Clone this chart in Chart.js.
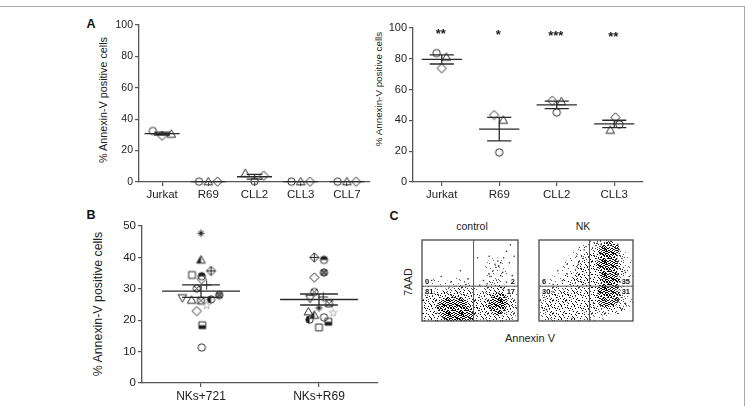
<!DOCTYPE html>
<html>
<head>
<meta charset="utf-8">
<script src="https://cdn.jsdelivr.net/npm/chart.js@4.4.1/dist/chart.umd.min.js"></script>
<style>
  body { margin: 0; width: 746px; height: 406px; position: relative; overflow: hidden; background: #fff;
         font-family: "Liberation Sans", Arial, sans-serif; color: #222; }
  canvas { position: absolute; }
  #frame { position: absolute; left: 0; top: 6px; width: 744px; height: 402px;
           border-top: 1.5px solid #a8a8a8; border-right: 1.5px solid #a8a8a8; }
  .t { position: absolute; white-space: nowrap; line-height: 1; transform: translate(-50%, -50%); }
  .r { transform: translate(-50%, -50%) rotate(-90deg); }
  .p { font-weight: bold; font-size: 12.5px; color: #111; }
</style>
</head>
<body>
<div id="frame"></div>

<div class="t p" style="left:91px;top:24px">A</div>
<div class="t p" style="left:91px;top:215px">B</div>
<div class="t p" style="left:394px;top:216px">C</div>

<div class="t r" style="left:103px;top:100px;font-size:10.8px">% Annexin-V positive cells</div>
<div class="t r" style="left:379px;top:89px;font-size:9.8px">% Annexin-V positive cells</div>
<div class="t r" style="left:98px;top:304px;font-size:12.4px">% Annexin-V positive cells</div>

<div class="t" id="tControl" style="left:472px;top:226px;font-size:10.5px"></div>
<div class="t" id="tNK" style="left:583px;top:226px;font-size:10.5px"></div>
<div class="t r" style="left:408px;top:282px;font-size:10.5px">7AAD</div>
<div class="t" style="left:530px;top:338px;font-size:11px">Annexin V</div>

<canvas id="aLeft" width="286" height="205" style="left:96px;top:10px"></canvas>
<canvas id="aRight" width="286" height="205" style="left:372px;top:10px"></canvas>
<canvas id="bPanel" width="302" height="196" style="left:90px;top:210px"></canvas>
<canvas id="cControl" width="120" height="105" style="left:410px;top:228px"></canvas>
<canvas id="cNK" width="118" height="105" style="left:527px;top:228px"></canvas>

<script>
// ---------- data ----------
// panel A, left: three replicates per target
const catsA1 = ["Jurkat", "R69", "CLL2", "CLL3", "CLL7"];
const circleA1 = [32.5, 0.2, 0.5, 0.2, 0.2];
const triangleA1 = [30.5, 0.2, 5.5, 0.2, 0.2];
const diamondA1 = [29.5, 0.2, 4.0, 0.2, 0.2];
const ticksA = [0, 20, 40, 60, 80, 100];

// panel A, right
const catsA2 = ["Jurkat", "R69", "CLL2", "CLL3"];
const circleA2 = [83.7, 19.2, 45.2, 37.4];
const triangleA2 = [81.1, 40.2, 52.2, 33.7];
const diamondA2 = [73.9, 43.5, 52.8, 42.0];
const sigA2 = ["**", "*", "***", "**"];
const sigLevelA2 = [98.2, 97.8, 97.1, 96.1];

// panel B: one value per donor
const catsB = ["NKs+721", "NKs+R69"];
const nk721 = [47.7, 39.2, 35.7, 34.4, 34.0, 33.1, 31.2, 30.1, 28.0, 27.1, 26.4, 26.2, 26.6, 24.7, 22.9, 18.4, 11.3];
const nkR69 = [23.9, 21.6, 40.0, 17.7, 39.2, 33.6, 27.4, 29.0, 35.2, 26.9, 22.7, 25.3, 20.2, 22.3, null, 19.5, 20.9];
const ticksB = [0, 10, 20, 30, 40, 50];

// panel C: flow plots (axes 0-100), gates and quadrant percentages (UL, UR, LL, LR)
const flowTitles = ["control", "NK"];
const gateX = [53.7, 53.7];
const gateY = [43, 43];
const quadControl = ["0", "2", "81", "17"];
const quadNK = ["6", "35", "30", "31"];

const controlCore = [[33, 12], [38, 14], [30, 8], [41, 9], [36, 5], [80, 24]];
const controlDense = [[28, 12], [35, 13], [42, 11], [32, 6], [38, 19], [24, 16], [45, 6], [30, 20], [80, 24], [78, 18]];
const controlMid = [[8, 10], [15, 16], [18, 6], [20, 24], [30, 28], [40, 28], [48, 20], [52, 10], [10, 26], [5, 18],
                    [44, 34], [25, 2], [70, 14], [80, 32], [86, 22], [68, 24], [74, 8], [88, 12], [76, 38]];
const controlSparse = [[62, 30], [92, 30], [58, 20], [78, 64], [60, 6], [95, 10], [3, 32], [36, 40], [15, 38]];
const controlDots = [[64, 50], [70, 58], [74, 62], [77, 66], [80, 68], [76, 70], [82, 72], [85, 78], [88, 86], [92, 94],
                     [72, 55], [68, 46], [84, 60], [60, 44], [88, 48], [94, 56], [48, 52], [30, 48], [20, 55], [82, 56],
                     [79, 74], [91, 72], [58, 78], [70, 80], [96, 80], [40, 62], [10, 50], [85, 40]];

const nkCore = [[74, 72], [75, 62], [74, 82], [76, 52], [73, 42]];
const nkDense = [[74, 78], [75, 68], [74, 58], [76, 48], [73, 86], [72, 38], [71, 28], [77, 30], [70, 70], [76, 88]];
const nkMid = [[66, 62], [62, 72], [62, 50], [80, 60], [80, 78], [68, 90], [56, 64], [66, 42], [80, 40], [70, 20],
               [58, 36], [48, 56], [44, 46], [52, 70], [82, 22], [22, 14], [30, 20], [38, 12], [14, 8], [45, 24],
               [10, 22], [28, 6], [36, 28], [50, 14], [18, 30]];
const nkSparse = [[35, 45], [28, 36], [44, 78], [36, 62], [55, 86], [5, 8], [88, 50], [60, 10], [86, 72], [22, 44],
                  [5, 30], [90, 30]];
const nkDots = [[30, 58], [25, 50], [15, 45], [40, 80], [48, 88], [85, 88], [92, 60], [94, 40], [88, 14], [4, 40],
                [62, 96], [66, 94], [15, 36], [8, 14], [35, 3], [58, 22], [8, 52], [42, 70], [96, 55], [92, 22],
                [20, 62], [30, 70], [84, 94], [50, 92]];

// ---------- layout / style ----------
const jitA1 = { circle: [-0.2, -0.2, 0, -0.2, -0.2], triangle: [0.2, 0, -0.2, 0, 0], diamond: [0, 0.2, 0.2, 0.2, 0.2] };
const jitA2 = { circle: [-0.09, 0, 0, 0.09], triangle: [0.08, 0.07, 0.08, -0.07], diamond: [0, -0.09, -0.08, 0.02] };
const jitB721 = [0, 0, 0.085, -0.076, 0.006, 0.006, 0.048, -0.036, 0.155, -0.158, -0.079, 0, 0.085, 0.048, -0.036, 0.011, 0.006];
const jitBR69 = [0, -0.04, -0.04, 0, 0.042, -0.04, 0.036, -0.04, 0.042, -0.076, -0.09, 0.085, -0.08, 0.12, 0, 0.079, 0.042];
const donorMarks = ["asterisk", "halfTriangle", "crossDiamond", "square", "halfCircleTop", "diamond", "plus", "circleX",
                    "crossCircle", "triangleDown", "triangle", "squareX", "halfCircleLeft", "grayStar", "diamond",
                    "halfSquare", "circle"];

const axisColor = "#555";
const textColor = "#222";
const FONT = "Liberation Sans";
Chart.defaults.font.family = FONT;

document.getElementById("tControl").textContent = flowTitles[0];
document.getElementById("tNK").textContent = flowTitles[1];

// small marker images drawn on canvases
function marker(kind) {
  const s = 13, c = s / 2, r = 3.7;
  const cv = document.createElement("canvas");
  cv.width = s; cv.height = s;
  const g = cv.getContext("2d");
  g.lineWidth = 1;
  g.strokeStyle = "#2a2a2a";
  g.fillStyle = "#1a1a1a";

  const shapes = {
    circle: () => { g.beginPath(); g.arc(c, c, r, 0, Math.PI * 2); },
    square: () => { g.beginPath(); g.rect(c - r + 0.3, c - r + 0.3, 2 * r - 0.6, 2 * r - 0.6); },
    diamond: () => { const d = r + 0.9; g.beginPath(); g.moveTo(c, c - d); g.lineTo(c + d, c); g.lineTo(c, c + d); g.lineTo(c - d, c); g.closePath(); },
    triangle: () => { const d = r + 0.6; g.beginPath(); g.moveTo(c, c - d); g.lineTo(c + d, c + d * 0.75); g.lineTo(c - d, c + d * 0.75); g.closePath(); },
    triangleDown: () => { const d = r + 0.6; g.beginPath(); g.moveTo(c, c + d); g.lineTo(c + d, c - d * 0.75); g.lineTo(c - d, c - d * 0.75); g.closePath(); }
  };
  const halfFill = (base, rect) => {
    g.save(); g.beginPath(); g.rect(...rect); g.clip();
    shapes[base](); g.fill(); g.restore();
    shapes[base](); g.stroke();
  };
  const lines = (segs) => { g.beginPath(); segs.forEach(([a, b, cc, d]) => { g.moveTo(a, b); g.lineTo(cc, d); }); g.stroke(); };
  const k = r * 0.7;

  switch (kind) {
    case "circle": case "square": case "diamond": case "triangle": case "triangleDown":
      shapes[kind](); g.stroke(); break;
    case "halfCircleTop": halfFill("circle", [0, 0, s, c]); break;
    case "halfCircleLeft": halfFill("circle", [0, 0, c, s]); break;
    case "halfSquare": halfFill("square", [0, c, s, s]); break;
    case "halfTriangle": halfFill("triangle", [0, 0, c, s]); break;
    case "circleX":
      shapes.circle(); g.stroke();
      lines([[c - k, c - k, c + k, c + k], [c - k, c + k, c + k, c - k]]); break;
    case "crossCircle":
      g.fillStyle = "#8a8a8a"; shapes.circle(); g.fill(); g.stroke();
      lines([[c - k, c - k, c + k, c + k], [c - k, c + k, c + k, c - k]]); break;
    case "squareX":
      shapes.square(); g.stroke();
      lines([[c - r + 0.3, c - r + 0.3, c + r - 0.3, c + r - 0.3], [c - r + 0.3, c + r - 0.3, c + r - 0.3, c - r + 0.3]]); break;
    case "crossDiamond":
      shapes.diamond(); g.stroke();
      lines([[c - r - 0.9, c, c + r + 0.9, c], [c, c - r - 0.9, c, c + r + 0.9]]); break;
    case "plus":
      lines([[c - r - 1, c, c + r + 1, c], [c, c - r - 1, c, c + r + 1]]); break;
    case "asterisk":
      lines([[c - r, c, c + r, c], [c, c - r, c, c + r], [c - k, c - k, c + k, c + k], [c - k, c + k, c + k, c - k]]); break;
    case "grayStar": {
      g.strokeStyle = "#b5b5b5";
      g.beginPath();
      for (let i = 0; i < 10; i++) {
        const rr = i % 2 ? r * 0.45 : r + 0.5;
        const a = -Math.PI / 2 + i * Math.PI / 5;
        const px = c + rr * Math.cos(a), py = c + rr * Math.sin(a);
        i ? g.lineTo(px, py) : g.moveTo(px, py);
      }
      g.closePath(); g.stroke(); break;
    }
  }
  return cv;
}

function meanSem(vals) {
  const v = vals.filter(x => x != null);
  const m = v.reduce((a, b) => a + b, 0) / v.length;
  const sd = Math.sqrt(v.reduce((a, b) => a + (b - m) ** 2, 0) / (v.length - 1));
  return [m, sd / Math.sqrt(v.length)];
}

// mean line + SEM whiskers, split with null gaps
function errorBars(groups, wMean, wSem) {
  const pts = [];
  groups.forEach((vals, i) => {
    const [m, se] = meanSem(vals);
    pts.push({ x: i - wMean, y: m }, { x: i + wMean, y: m }, { x: i, y: null },
             { x: i - wSem, y: m + se }, { x: i + wSem, y: m + se }, { x: i, y: null },
             { x: i - wSem, y: m - se }, { x: i + wSem, y: m - se }, { x: i, y: null },
             { x: i, y: m + se }, { x: i, y: m - se }, { x: i, y: null });
  });
  return pts;
}

function dotChart(id, cats, yTicks, o, datasets, plugins) {
  return new Chart(document.getElementById(id), {
    type: "scatter",
    data: { datasets },
    options: {
      responsive: false, animation: false, events: [],
      layout: { padding: { top: o.padTop, right: o.padRight, left: 0, bottom: 0 } },
      plugins: { legend: { display: false }, tooltip: { enabled: false } },
      scales: {
        x: {
          type: "linear", min: -0.5, max: cats.length - 0.5,
          afterBuildTicks: s => { s.ticks = cats.map((c, i) => ({ value: i })); },
          afterFit: s => { s.height = o.xH; },
          ticks: { callback: v => cats[v], font: { size: o.catSize }, color: textColor, padding: 2,
                   autoSkip: false, maxRotation: 0 },
          grid: { drawOnChartArea: false, tickLength: 4, color: axisColor, lineWidth: 1.2 },
          border: { color: axisColor, width: 1.3 }
        },
        y: {
          min: yTicks[0], max: yTicks[yTicks.length - 1],
          afterBuildTicks: s => { s.ticks = yTicks.map(v => ({ value: v })); },
          afterFit: s => { s.width = o.yW; },
          ticks: { font: { size: o.tickSize }, color: textColor, padding: 2 },
          grid: { drawOnChartArea: false, tickLength: 4, color: axisColor, lineWidth: 1.2 },
          border: { color: axisColor, width: 1.3 }
        }
      }
    },
    plugins: plugins || []
  });
}

function replicateSets(cats, vals, jit) {
  return ["circle", "triangle", "diamond"].map(k => ({
    data: cats.map((c, i) => ({ x: i + jit[k][i], y: vals[k][i] })),
    pointStyle: marker(k), pointRadius: 5, clip: false
  }));
}
function barSet(data) {
  return { data, showLine: true, pointRadius: 0, borderColor: "#2a2a2a", borderWidth: 1.3, spanGaps: false, clip: false };
}

// ---------- panel A left ----------
const valsA1 = { circle: circleA1, triangle: triangleA1, diamond: diamondA1 };
dotChart("aLeft", catsA1, ticksA,
  { padTop: 15, padRight: 12, xH: 33, yW: 43, catSize: 11.5, tickSize: 10.5 },
  [barSet(errorBars(catsA1.map((c, i) => [circleA1[i], triangleA1[i], diamondA1[i]]), 0.38, 0.17)),
   ...replicateSets(catsA1, valsA1, jitA1)]);

// ---------- panel A right ----------
const valsA2 = { circle: circleA2, triangle: triangleA2, diamond: diamondA2 };
const sigPlugin = {
  id: "sig",
  afterDatasetsDraw(chart) {
    const { ctx, scales: { x, y } } = chart;
    ctx.save();
    ctx.font = "bold 13px " + FONT;
    ctx.fillStyle = "#1a1a1a";
    ctx.textAlign = "center";
    ctx.textBaseline = "alphabetic";
    // asterisk glyph sits ~0.57em above the baseline
    sigA2.forEach((t, i) => ctx.fillText(t, x.getPixelForValue(i) - 1, y.getPixelForValue(sigLevelA2[i]) + 7.4));
    ctx.restore();
  }
};
dotChart("aRight", catsA2, ticksA,
  { padTop: 18, padRight: 15, xH: 33, yW: 41, catSize: 11.5, tickSize: 11 },
  [barSet(errorBars(catsA2.map((c, i) => [circleA2[i], triangleA2[i], diamondA2[i]]), 0.35, 0.21)),
   ...replicateSets(catsA2, valsA2, jitA2)],
  [sigPlugin]);

// ---------- panel B ----------
const marksB = donorMarks.map(marker);
dotChart("bPanel", catsB, ticksB,
  { padTop: 16, padRight: 14, xH: 23, yW: 52, catSize: 12, tickSize: 11.5 },
  [barSet(errorBars([nk721, nkR69], 0.33, 0.16)),
   { data: nk721.map((v, i) => ({ x: jitB721[i], y: v })), pointStyle: marksB, pointRadius: 5, clip: false },
   { data: nkR69.map((v, i) => ({ x: 1 + jitBR69[i], y: v })), pointStyle: marksB, pointRadius: 5, clip: false }]);

// ---------- panel C ----------
// stipple fills: tiny tiles of hand-placed dots
function stipple(dots, alpha) {
  const t = document.createElement("canvas");
  t.width = 13; t.height = 13;
  const g = t.getContext("2d");
  g.fillStyle = `rgba(0,0,0,${alpha})`;
  dots.forEach(([i, j]) => g.fillRect(i, j, 1, 1));
  return g.createPattern(t, "repeat");
}
const sparseTile = [[2, 1], [9, 3], [5, 6], [12, 8], [1, 9], [7, 11], [10, 12], [4, 4], [11, 0], [0, 6]];
const midTile = [[1, 1], [5, 0], [9, 2], [12, 1], [3, 4], [7, 5], [11, 5], [0, 7], [5, 8], [9, 8], [2, 10],
                 [7, 11], [11, 11], [4, 2], [10, 9], [1, 12], [6, 3], [12, 7], [3, 7], [8, 0], [6, 10], [10, 6],
                 [2, 2], [8, 12]];
const denseTile = [[0, 0], [3, 0], [7, 1], [10, 0], [12, 2], [1, 2], [5, 2], [9, 3], [2, 4], [6, 4], [11, 4],
                   [0, 5], [4, 6], [8, 5], [12, 6], [2, 7], [6, 7], [10, 7], [0, 8], [4, 9], [8, 8], [11, 9],
                   [1, 10], [5, 10], [9, 10], [12, 11], [3, 11], [7, 12], [0, 12], [10, 12], [6, 0], [3, 3],
                   [8, 11], [5, 8], [1, 6], [11, 1], [9, 6], [7, 9], [2, 1], [12, 9], [4, 1], [8, 3], [1, 8],
                   [10, 5], [6, 11], [3, 9], [12, 4], [7, 7], [5, 4], [9, 12], [0, 10], [11, 7], [2, 12], [4, 11]];
const patSparse = stipple(sparseTile, 0.6);
const patMid = stipple(midTile, 0.75);
const patDense = stipple(denseTile, 0.9);
const patCore = stipple(denseTile.concat(midTile, sparseTile), 1);

const flowPlugin = {
  id: "flow",
  afterDatasetsDraw(chart, args, opts) {
    const { ctx, chartArea: a, scales: { x, y } } = chart;
    const gx = x.getPixelForValue(opts.gx), gy = y.getPixelForValue(opts.gy);
    ctx.save();
    ctx.strokeStyle = "#555"; ctx.lineWidth = 1;
    ctx.beginPath();
    ctx.moveTo(gx, a.top); ctx.lineTo(gx, a.bottom);
    ctx.moveTo(a.left, gy); ctx.lineTo(a.right, gy);
    ctx.stroke();
    ctx.lineWidth = 1.3; ctx.strokeStyle = "#4a4a4a";
    ctx.strokeRect(a.left, a.top, a.width, a.height);

    // quadrant percentages on a small white backing so they stay legible
    ctx.font = "bold 7.5px " + FONT;
    const [ul, ur, ll, lr] = opts.quad;
    const label = (txt, px, top, alignRight) => {
      const w = ctx.measureText(txt).width;
      const lx = alignRight ? px - w : px;
      ctx.fillStyle = "#fff";
      ctx.fillRect(lx - 1, top - 0.5, w + 2, 7.5);
      ctx.fillStyle = "#111";
      ctx.textAlign = "left"; ctx.textBaseline = "top";
      ctx.fillText(txt, lx, top);
    };
    label(ul, a.left + 3, gy - 8, false);
    label(ll, a.left + 3, gy + 2, false);
    label(ur, a.right - 3, gy - 8, true);
    label(lr, a.right - 3, gy + 2, true);
    ctx.restore();
  }
};

function flowChart(id, pad, core, dense, mid, sparse, dots, gx, gy, quad) {
  const set = (pts, r, fill) => ({ data: pts.map(([x, y]) => ({ x, y })), pointRadius: r, backgroundColor: fill,
                                   borderWidth: 0, clip: 0 });
  return new Chart(document.getElementById(id), {
    type: "scatter",
    data: { datasets: [set(sparse, 12, patSparse), set(mid, 11, patMid), set(dense, 9, patDense),
                       set(core, 7, patCore), set(dots, 0.8, "#333")] },
    options: {
      responsive: false, animation: false, events: [],
      layout: { padding: pad },
      plugins: { legend: { display: false }, tooltip: { enabled: false }, flow: { gx, gy, quad } },
      scales: { x: { min: 0, max: 100, display: false }, y: { min: 0, max: 100, display: false } }
    },
    plugins: [flowPlugin]
  });
}
flowChart("cControl", { left: 7, top: 5, right: 5, bottom: 5 }, controlCore, controlDense, controlMid, controlSparse,
          controlDots, gateX[0], gateY[0], quadControl);
flowChart("cNK", { left: 5, top: 5, right: 5, bottom: 5 }, nkCore, nkDense, nkMid, nkSparse, nkDots,
          gateX[1], gateY[1], quadNK);
</script>
</body>
</html>
